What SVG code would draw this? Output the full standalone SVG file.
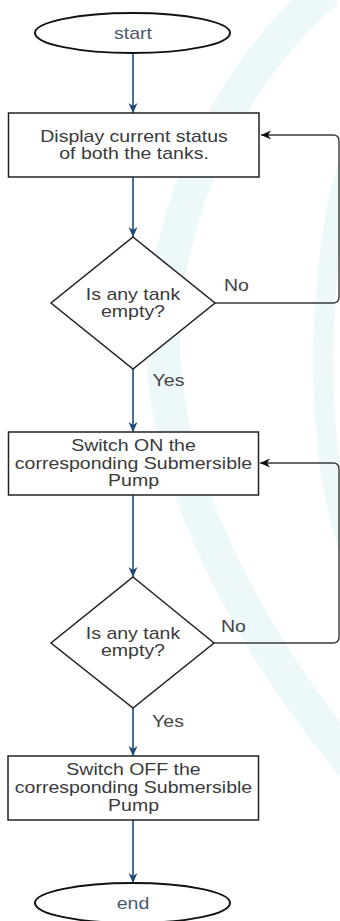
<svg xmlns="http://www.w3.org/2000/svg" width="340" height="921" viewBox="0 0 340 921">
<style>
  .bg { fill: #ffffff; }
  .wm { fill: none; stroke: #edf8fb; stroke-linecap: butt; }
  .term { fill: #ffffff; stroke: #111111; stroke-width: 2; }
  .proc { fill: #ffffff; stroke: #222222; stroke-width: 1.5; }
  .dec { fill: #ffffff; stroke: #222222; stroke-width: 1.5; }
  .t { font-family: "Liberation Sans", Arial, sans-serif; font-size: 16px; fill: #3a3a3a; text-anchor: middle; }
  .tt { fill: #4a5a6e; }
  .lbl { font-family: "Liberation Sans", Arial, sans-serif; font-size: 16px; fill: #444444; text-anchor: middle; }
  .flow { fill: none; stroke: #1b4a7c; stroke-width: 1.6; }
  .back { fill: none; stroke: #3a3a3a; stroke-width: 1.4; }
</style>
<defs>
  <marker id="arrBlue" viewBox="0 0 10 10" refX="10" refY="5" markerWidth="10" markerHeight="10" markerUnits="userSpaceOnUse" orient="auto">
    <path d="M0,0.5 L10,5 L0,9.5 L3,5 z" fill="#1b4a7c"/>
  </marker>
  <marker id="arrBlack" viewBox="0 0 10 10" refX="10" refY="5" markerWidth="10" markerHeight="10" markerUnits="userSpaceOnUse" orient="auto">
    <path d="M0,0.5 L10,5 L0,9.5 L3,5 z" fill="#111111"/>
  </marker>
</defs>
<rect class="bg" x="0" y="0" width="340" height="921"/>
<g id="watermark">
  <path class="wm" stroke-width="34" d="M 328,-10 C 215,85 150,250 165,380 C 178,500 250,640 352,765"/>
  <path class="wm" stroke-width="20" d="M 348,165 C 318,260 312,440 348,545"/>
</g>
<g id="connectors">
  <path class="flow" d="M133,53 V113" marker-end="url(#arrBlue)"/>
  <path class="flow" d="M133,177 V237" marker-end="url(#arrBlue)"/>
  <path class="flow" d="M133,369 V432" marker-end="url(#arrBlue)"/>
  <path class="flow" d="M133,495 V577" marker-end="url(#arrBlue)"/>
  <path class="flow" d="M133,708 V756" marker-end="url(#arrBlue)"/>
  <path class="flow" d="M133,820 V883" marker-end="url(#arrBlue)"/>
  <path class="back" d="M215,303 H333 Q339,303 339,297 V141 Q339,135 333,135 H261" marker-end="url(#arrBlack)"/>
  <path class="back" d="M214,643 H333 Q339,643 339,637 V469 Q339,463 333,463 H260" marker-end="url(#arrBlack)"/>
  <text class="lbl" transform="translate(236.5,290.5) scale(1.22,1)">No</text>
  <text class="lbl" transform="translate(168.5,385.5) scale(1.22,1)">Yes</text>
  <text class="lbl" transform="translate(233.5,631.5) scale(1.22,1)">No</text>
  <text class="lbl" transform="translate(168,726.5) scale(1.22,1)">Yes</text>
</g>
<g id="start">
  <ellipse class="term" cx="132.5" cy="33" rx="97.5" ry="20"/>
  <text class="t tt" transform="translate(133,38.5) scale(1.22,1)">start</text>
</g>
<g id="display">
  <rect class="proc" x="8.5" y="113" width="250.5" height="64"/>
  <text class="t" transform="translate(134,142) scale(1.22,1)">Display current status</text>
  <text class="t" transform="translate(134,159) scale(1.22,1)">of both the tanks.</text>
</g>
<g id="check1">
  <polygon class="dec" points="133,237 215,303 133,369 51,303"/>
  <text class="t" transform="translate(133,299.5) scale(1.22,1)">Is any tank</text>
  <text class="t" transform="translate(133,317) scale(1.22,1)">empty?</text>
</g>
<g id="pumpOn">
  <rect class="proc" x="8.5" y="432" width="250" height="63"/>
  <text class="t" transform="translate(133.5,451) scale(1.22,1)">Switch ON the</text>
  <text class="t" transform="translate(133.5,468.5) scale(1.22,1)">corresponding Submersible</text>
  <text class="t" transform="translate(133.5,486) scale(1.22,1)">Pump</text>
</g>
<g id="check2">
  <polygon class="dec" points="133,577 214,643 133,708 51,643"/>
  <text class="t" transform="translate(133,639) scale(1.22,1)">Is any tank</text>
  <text class="t" transform="translate(133,656) scale(1.22,1)">empty?</text>
</g>
<g id="pumpOff">
  <rect class="proc" x="8" y="756" width="250.5" height="64"/>
  <text class="t" transform="translate(133.5,775) scale(1.22,1)">Switch OFF the</text>
  <text class="t" transform="translate(133.5,793) scale(1.22,1)">corresponding Submersible</text>
  <text class="t" transform="translate(133.5,811) scale(1.22,1)">Pump</text>
</g>
<g id="end">
  <ellipse class="term" cx="132.5" cy="903" rx="97.5" ry="20"/>
  <text class="t tt" transform="translate(133,909) scale(1.22,1)">end</text>
</g>
</svg>
